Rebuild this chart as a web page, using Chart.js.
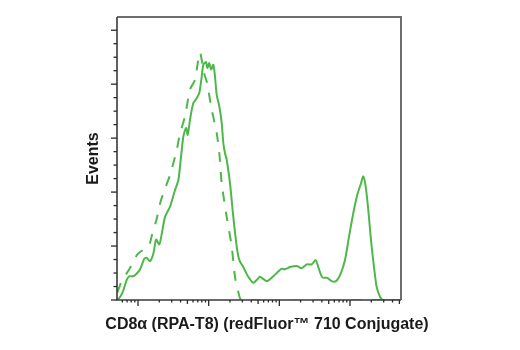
<!DOCTYPE html>
<html>
<head>
<meta charset="utf-8">
<script src="https://cdn.jsdelivr.net/npm/chart.js@4/dist/chart.umd.min.js"></script>
<style>
html,body{margin:0;padding:0;background:#fff;}
#wrap{width:520px;height:350px;position:relative;}
</style>
</head>
<body>
<div id="wrap"><canvas id="c" width="520" height="350"></canvas></div>
<script>
// Sample (solid) histogram: fluorescence intensity and events (scaled units)
const solidX = [51,56,62,69,75,86,96,107,123,133,148,165,180,200,217,241,284,334,372,402,438,478,505,544,606,677,737,797,840,917,956,1021,1079,1163,1229,1299,1414,1529,1611,1702,1799,2004,2231,2493,2713,3090,3637,4280,4782,5325,6623,8214,10800,12030,14160,17610,20720,24390,28700,32700,35590,40550,47720,55070,63370,73840,84950,96760,111300,126800,143000,154200,166700,181500,198200,218600,238700,265700,295800,535800];
const solidY = [0,0.06,0.18,0.37,0.44,0.44,0.49,0.57,0.77,0.78,0.72,0.86,1.12,1.03,1.23,1.54,1.73,2.04,2.22,2.60,3.03,3.19,3.06,3.34,3.65,3.74,3.84,4.14,4.36,4.41,4.30,4.39,4.27,4.36,4.14,3.80,3.59,3.28,2.91,2.72,2.60,2.16,1.54,0.99,0.74,0.61,0.43,0.32,0.37,0.43,0.35,0.44,0.58,0.57,0.61,0.63,0.59,0.66,0.66,0.74,0.61,0.42,0.41,0.35,0.35,0.49,0.74,1.17,1.61,1.95,2.16,2.29,2.10,1.67,1.11,0.61,0.24,0.06,0,0];
// Isotype control (dashed) histogram
const dashedX = [51,60,73,96,107,140,156,184,205,228,284,353,393,462,544,641,699,754,859,938,1104,1299,1414,1529,1799,2118,2358,2627,2934,535800];
const dashedY = [0.14,0.38,0.54,0.83,0.89,0.99,1.18,1.51,1.79,1.98,2.32,2.78,3.09,3.40,3.90,4.08,4.39,4.59,4.21,4.05,3.53,3.09,2.72,2.16,1.54,0.99,0.43,0.15,0,0];
// Axis tick positions (no labels shown)
const yMajorTicks = [0,1,2,3,4,5];
const yMinorStep = 0.25;
const xDecades = [1,2,3,4,5];
const xTitle = 'CD8\u03B1 (RPA-T8) (redFluor\u2122 710 Conjugate)';
const yTitle = 'Events';

const GREEN = '#4db848';
const FONT = "'Liberation Sans', Arial, Helvetica, sans-serif";
const toPts = (xs, ys) => xs.map((x, i) => ({x: x, y: ys[i]}));

const tickPlugin = {
  id: 'ticksAndFrame',
  afterDraw(chart) {
    const ctx = chart.ctx, a = chart.chartArea;
    ctx.save();
    ctx.strokeStyle = '#6e6e6e';
    ctx.lineWidth = 2;
    ctx.beginPath();
    ctx.moveTo(a.left, a.top); ctx.lineTo(a.right, a.top); ctx.lineTo(a.right, a.bottom);
    ctx.stroke();
    ctx.strokeStyle = '#3a3a3a';
    ctx.lineWidth = 1.6;
    ctx.beginPath();
    ctx.moveTo(a.left, a.top); ctx.lineTo(a.left, a.bottom); ctx.lineTo(a.right, a.bottom);
    ctx.stroke();
    const ys = chart.scales.y;
    ctx.lineWidth = 1.3;
    ctx.strokeStyle = '#2a2a2a';
    ys.ticks.forEach((t) => {
      const p = ys.getPixelForValue(t.value);
      const len = t.major ? 6 : 3.5;
      ctx.beginPath(); ctx.moveTo(a.left, p); ctx.lineTo(a.left - len, p); ctx.stroke();
    });
    const xs = chart.scales.x;
    xs.ticks.forEach((t) => {
      const p = xs.getPixelForValue(t.value);
      const len = t.major ? 6 : (t.mid ? 4 : 2.5);
      ctx.beginPath(); ctx.moveTo(p, a.bottom); ctx.lineTo(p, a.bottom + len); ctx.stroke();
    });
    // x-axis title (drawn without width compression)
    ctx.fillStyle = '#1a1a1a';
    ctx.font = "bold 16px " + FONT;
    ctx.textAlign = 'center';
    ctx.textBaseline = 'alphabetic';
    ctx.fillText(xTitle, 267, 329);
    ctx.restore();
  }
};

new Chart(document.getElementById('c'), {
  type: 'line',
  data: {
    datasets: [
      {label: 'Sample', data: toPts(solidX, solidY), borderColor: GREEN, borderWidth: 2, pointRadius: 0, tension: 0.25, fill: false},
      {label: 'Control', data: toPts(dashedX, dashedY), borderColor: GREEN, borderWidth: 2, borderDash: [10, 10], pointRadius: 0, tension: 0.25, fill: false}
    ]
  },
  options: {
    responsive: false,
    animation: false,
    layout: {padding: {left: 80, right: 119, top: 17, bottom: 0}},
    plugins: {legend: {display: false}, tooltip: {enabled: false}},
    scales: {
      x: {
        type: 'logarithmic',
        min: 50.4, max: 527000,
        grid: {display: false, drawTicks: false},
        border: {display: false},
        ticks: {display: false},
        afterBuildTicks(s) {
          const out = [];
          xDecades.forEach(d => {
            for (let k = 1; k <= 9; k++) {
              const v = k * Math.pow(10, d);
              if (v >= s.min && v <= s.max) out.push({value: v, major: k === 1, mid: k === 5});
            }
          });
          s.ticks = out;
        },
        afterFit(s) { s.height = 50; },
        title: {display: false}
      },
      y: {
        type: 'linear',
        min: 0, max: 5.245,
        grid: {display: false, drawTicks: false},
        border: {display: false},
        ticks: {display: false},
        afterBuildTicks(s) {
          const out = [];
          for (let v = 0; v <= 5.001; v += yMinorStep) {
            const r = Math.round(v * 100) / 100;
            out.push({value: r, major: yMajorTicks.includes(r)});
          }
          s.ticks = out;
        },
        afterFit(s) { s.width = 37; },
        title: {display: true, text: yTitle, color: '#1a1a1a',
          font: {family: FONT, size: 16, weight: 'bold'},
          padding: {top: 4, bottom: 0}}
      }
    }
  },
  plugins: [tickPlugin]
});
</script>
</body>
</html>
